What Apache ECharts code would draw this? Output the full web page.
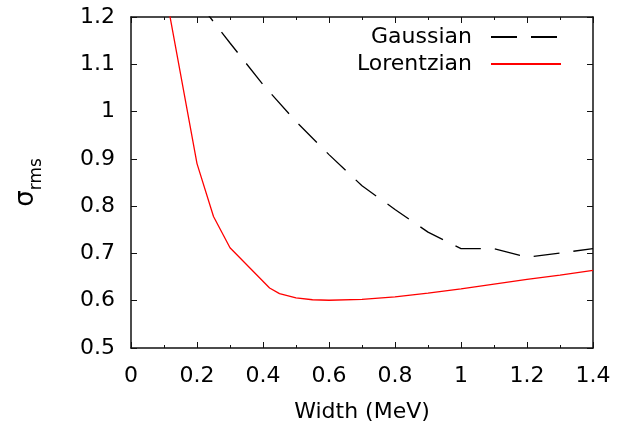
<!DOCTYPE html>
<html>
<head>
<meta charset="utf-8">
<script src="https://cdn.jsdelivr.net/npm/echarts@6/dist/echarts.min.js"></script>
<style>
  html, body { margin: 0; padding: 0; background: #fff; }
  #chart { width: 626px; height: 428px; }
</style>
</head>
<body>
<div id="chart"></div>
<script>
// values
const gaussX = [0.2, 0.3, 0.4, 0.5, 0.6, 0.7, 0.8, 0.9, 1.0, 1.1, 1.2, 1.3, 1.4]
const gaussY = [1.235, 1.145, 1.057, 0.979, 0.909, 0.843, 0.793, 0.745, 0.71, 0.71, 0.692, 0.701, 0.71]

const lorentzX = [0.1, 0.2, 0.25, 0.3, 0.42, 0.45, 0.5, 0.55, 0.6, 0.7, 0.8, 0.9, 1.0, 1.1, 1.2, 1.3, 1.4]
const lorentzY = [1.27, 0.89, 0.778, 0.712, 0.627, 0.615, 0.606, 0.602, 0.601, 0.603, 0.608, 0.616, 0.625, 0.635, 0.645, 0.654, 0.664]

const xTicks = { min: 0, max: 1.4, interval: 0.2 }
const yTicks = { min: 0.5, max: 1.2, interval: 0.1 }

const FONT = 'DejaVu Sans'

const chart = echarts.init(document.getElementById('chart'))

const zip = (xs, ys) => xs.map((x, i) => [x, ys[i]])

const frameLine = { show: true, onZero: false, lineStyle: { color: '#111', width: 1.5 } }
const tickStyle = { color: '#111', width: 1 }

const option = {
  animation: false,
  backgroundColor: '#fff',
  textStyle: { fontFamily: FONT },
  grid: { left: 131, right: 33, top: 17, bottom: 80 },
  legend: {
    orient: 'vertical',
    right: 64,
    top: 26,
    padding: 0,
    align: 'right',
    itemWidth: 70,
    itemHeight: 14,
    itemGap: 5,
    itemStyle: { opacity: 0 },
    textStyle: { fontFamily: FONT, fontSize: 22, color: '#000', padding: [0, 14, 0, 0] },
    data: ['Gaussian', 'Lorentzian']
  },
  xAxis: [
    {
      type: 'value',
      ...xTicks,
      name: 'Width (MeV)',
      nameLocation: 'middle',
      nameGap: 53,
      nameTextStyle: { fontFamily: FONT, fontSize: 22, color: '#000' },
      axisLine: frameLine,
      axisTick: { inside: true, length: 6, lineStyle: tickStyle },
      minorTick: { show: true, splitNumber: 2, length: 3, lineStyle: tickStyle },
      axisLabel: { fontFamily: FONT, fontSize: 22, color: '#000', margin: 17 },
      splitLine: { show: false }
    },
    {
      type: 'value',
      position: 'top',
      ...xTicks,
      axisLine: frameLine,
      axisTick: { inside: true, length: 6, lineStyle: tickStyle },
      minorTick: { show: true, splitNumber: 2, length: 3, lineStyle: tickStyle },
      axisLabel: { show: false },
      splitLine: { show: false }
    }
  ],
  yAxis: [
    {
      type: 'value',
      ...yTicks,
      name: '{s|σ}{sub|rms}',
      nameLocation: 'middle',
      nameRotate: 90,
      nameGap: 86,
      nameTextStyle: {
        color: '#000',
        rich: {
          s: { fontFamily: FONT, fontSize: 26, color: '#000', verticalAlign: 'bottom', padding: [0, 0, 6, 0] },
          sub: { fontFamily: FONT, fontSize: 17, color: '#000', verticalAlign: 'bottom' }
        }
      },
      axisLine: frameLine,
      axisTick: { inside: true, length: 6, lineStyle: tickStyle },
      axisLabel: { fontFamily: FONT, fontSize: 22, color: '#000', margin: 16 },
      splitLine: { show: false }
    },
    {
      type: 'value',
      position: 'right',
      ...yTicks,
      axisLine: frameLine,
      axisTick: { inside: true, length: 6, lineStyle: tickStyle },
      axisLabel: { show: false },
      splitLine: { show: false }
    }
  ],
  series: [
    {
      name: 'Gaussian',
      type: 'line',
      data: zip(gaussX, gaussY),
      symbol: 'none',
      clip: true,
      color: '#000',
      lineStyle: { color: '#000', width: 1.3, type: [26, 14] }
    },
    {
      name: 'Lorentzian',
      type: 'line',
      data: zip(lorentzX, lorentzY),
      symbol: 'none',
      clip: true,
      color: '#ff0000',
      lineStyle: { color: '#ff0000', width: 1.3 }
    }
  ]
}

chart.setOption(option)
</script>
</body>
</html>
